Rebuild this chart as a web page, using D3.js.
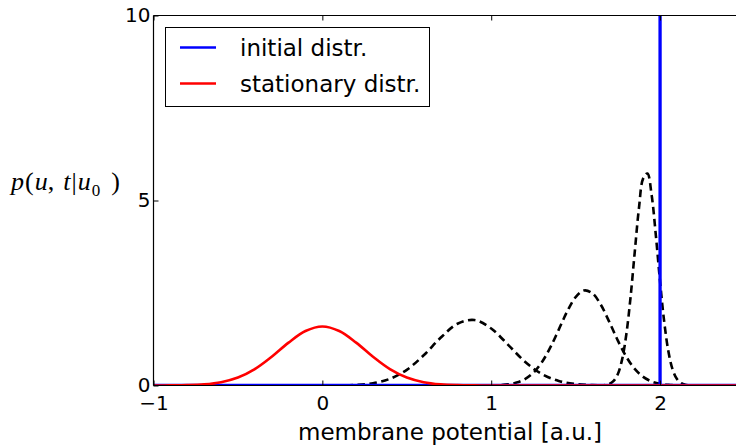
<!DOCTYPE html>
<html>
<head>
<meta charset="utf-8">
<script src="https://cdn.jsdelivr.net/npm/d3@7"></script>
<style>
  html, body { margin: 0; padding: 0; background: #fff; }
  svg { display: block; }
  text { font-family: "DejaVu Sans", sans-serif; fill: #000; }
</style>
</head>
<body>
<svg id="chart" width="736" height="448"></svg>
<script>
// ---- data ----
const xTicks = [-1, 0, 1, 2];
const yTicks = [0, 5, 10];
const xTickLabels = ["\u22121", "0", "1", "2"];
const yTickLabels = ["0", "5", "10"];
const xLabel = "membrane potential [a.u.]";
const legendLabels = ["initial distr.", "stationary distr."];

// initial distribution: a delta at u0 = 2
const initialX = [-1, 2, 2, 2, 2.5];
const initialY = [0, 0, 100, 0, 0];

// stationary distribution (red)
const stationaryX = [-1, -0.9, -0.8, -0.7, -0.6, -0.5, -0.4, -0.3, -0.2, -0.1, 0, 0.1, 0.2, 0.3, 0.4, 0.5, 0.6, 0.7, 0.8, 0.9, 1.0, 1.1, 1.2, 2.5];
const stationaryY = [0.0005, 0.0024, 0.0095, 0.032, 0.090, 0.216, 0.444, 0.777, 1.159, 1.473, 1.596, 1.473, 1.159, 0.777, 0.444, 0.216, 0.090, 0.032, 0.0095, 0.0024, 0.0005, 0.0001, 0, 0];

// transient distributions (black dashed)
const transient1X = [-1, -0.1, 0.0, 0.1, 0.2, 0.3, 0.4, 0.5, 0.6, 0.7, 0.8, 0.9, 1.0, 1.1, 1.2, 1.3, 1.4, 1.5, 1.6, 1.7, 1.8, 2.5];
const transient1Y = [0, 0.0001, 0.0008, 0.0043, 0.018, 0.063, 0.181, 0.424, 0.816, 1.289, 1.668, 1.770, 1.540, 1.100, 0.643, 0.309, 0.122, 0.039, 0.010, 0.002, 0, 0];

const transient2X = [-1, 0.9, 1.0, 1.05, 1.1, 1.15, 1.2, 1.25, 1.3, 1.35, 1.4, 1.45, 1.5, 1.55, 1.6, 1.65, 1.7, 1.75, 1.8, 1.85, 1.9, 1.95, 2.0, 2.05, 2.1, 2.15, 2.2, 2.5];
const transient2Y = [0, 0.0003, 0.0038, 0.0115, 0.0315, 0.078, 0.173, 0.348, 0.630, 1.028, 1.511, 2.001, 2.388, 2.569, 2.490, 2.175, 1.712, 1.214, 0.776, 0.447, 0.232, 0.109, 0.046, 0.017, 0.006, 0.002, 0, 0];

const transient3X = [-1, 1.6, 1.65, 1.675, 1.7, 1.725, 1.75, 1.775, 1.8, 1.825, 1.85, 1.875, 1.9, 1.925, 1.95, 1.975, 2.0, 2.025, 2.05, 2.075, 2.1, 2.125, 2.15, 2.175, 2.2, 2.5];
const transient3Y = [0, 0, 0.0033, 0.0125, 0.042, 0.122, 0.311, 0.699, 1.377, 2.378, 3.606, 4.797, 5.598, 5.731, 5.148, 4.058, 2.805, 1.702, 0.906, 0.422, 0.173, 0.062, 0.020, 0.005, 0, 0];

// ---- drawing ----
const svg = d3.select("#chart");
const pLeft = 153.5, pRight = 744.5, pTop = 15.5, pBottom = 385.5;

const x = d3.scaleLinear().domain([-1, 2.5]).range([pLeft, pRight]);
const y = d3.scaleLinear().domain([0, 10]).range([pBottom, pTop]);

svg.append("defs").append("clipPath").attr("id", "plotclip")
  .append("rect").attr("x", pLeft).attr("y", pTop)
  .attr("width", pRight - pLeft).attr("height", pBottom - pTop);

const line = d3.line().x(d => x(d[0])).y(d => y(d[1])).curve(d3.curveCatmullRom.alpha(0.5));
const lineStraight = d3.line().x(d => x(d[0])).y(d => y(d[1]));
const zip = (a, b) => a.map((v, i) => [v, b[i]]);

const g = svg.append("g").attr("clip-path", "url(#plotclip)");

[[transient1X, transient1Y], [transient2X, transient2Y], [transient3X, transient3Y]].forEach(([xs, ys]) => {
  g.append("path").datum(zip(xs, ys))
    .attr("d", line)
    .attr("fill", "none").attr("stroke", "#000")
    .attr("stroke-width", 2.6).attr("stroke-dasharray", "7.5,4.5");
});

g.append("path").datum(zip(initialX, initialY))
  .attr("d", lineStraight)
  .attr("fill", "none").attr("stroke", "#0000ff").attr("stroke-width", 3.3);

g.append("path").datum(zip(stationaryX, stationaryY))
  .attr("d", line)
  .attr("fill", "none").attr("stroke", "#ff0000").attr("stroke-width", 2.6);

// axes
const xAxisB = d3.axisBottom(x).tickValues(xTicks).tickFormat((d, i) => xTickLabels[i]).tickSizeInner(-5).tickSizeOuter(0).tickPadding(10);
const xAxisT = d3.axisTop(x).tickValues(xTicks).tickFormat("").tickSizeInner(-5).tickSizeOuter(0);
const yAxisL = d3.axisLeft(y).tickValues(yTicks).tickFormat((d, i) => yTickLabels[i]).tickSizeInner(-5).tickSizeOuter(0).tickPadding(3);

function styleAxis(sel) {
  sel.select(".domain").remove();
  sel.selectAll(".tick line").attr("stroke", "#000").attr("stroke-width", 1);
  sel.selectAll(".tick text").style("font-family", "'DejaVu Sans', sans-serif").style("font-size", "20px").attr("fill", "#000");
}
svg.append("g").attr("transform", `translate(0,${pBottom})`).call(xAxisB).call(styleAxis);
svg.append("g").attr("transform", `translate(0,${pTop})`).call(xAxisT).call(styleAxis);
svg.append("g").attr("transform", `translate(${pLeft},0)`).call(yAxisL).call(styleAxis);

// spines (left, bottom, top; right is beyond the picture)
svg.append("line").attr("x1", pLeft).attr("x2", pLeft).attr("y1", pTop).attr("y2", pBottom).attr("stroke", "#000").attr("stroke-width", 1.2);
svg.append("line").attr("x1", pLeft).attr("x2", pRight).attr("y1", pBottom).attr("y2", pBottom).attr("stroke", "#000").attr("stroke-width", 1.2);
svg.append("line").attr("x1", pLeft).attr("x2", pRight).attr("y1", pTop).attr("y2", pTop).attr("stroke", "#000").attr("stroke-width", 1.2);

// x label
svg.append("text").attr("x", 450).attr("y", 440)
  .attr("text-anchor", "middle").style("font-size", "23px").text(xLabel);

// y label (math style)
const yl = svg.append("text").attr("x", 11).attr("y", 190)
  .style("font-family", "'Liberation Serif', serif").style("font-size", "26px");
yl.append("tspan").style("font-style", "italic").text("p");
yl.append("tspan").attr("dx", 1).text("(");
yl.append("tspan").attr("dx", 1).style("font-style", "italic").text("u");
yl.append("tspan").text(",");
yl.append("tspan").attr("dx", 9).style("font-style", "italic").text("t");
yl.append("tspan").attr("dx", 1).text("|");
yl.append("tspan").attr("dx", 1).style("font-style", "italic").text("u");
yl.append("tspan").attr("dy", 6).attr("dx", 1).style("font-size", "17px").text("0");
yl.append("tspan").attr("dy", -6).attr("dx", 11).text(")");

// legend
const leg = svg.append("g");
leg.append("rect").attr("x", 165.5).attr("y", 27.5).attr("width", 264).attr("height", 79)
  .attr("fill", "#fff").attr("stroke", "#000").attr("stroke-width", 1);
const legColors = ["#0000ff", "#ff0000"];
legendLabels.forEach((lab, i) => {
  const yy = 47.5 + i * 36;
  leg.append("line").attr("x1", 180).attr("x2", 216).attr("y1", yy).attr("y2", yy)
    .attr("stroke", legColors[i]).attr("stroke-width", 2.6);
  leg.append("text").attr("x", 240).attr("y", yy + 8).style("font-size", "23px").text(lab);
});
</script>
</body>
</html>
